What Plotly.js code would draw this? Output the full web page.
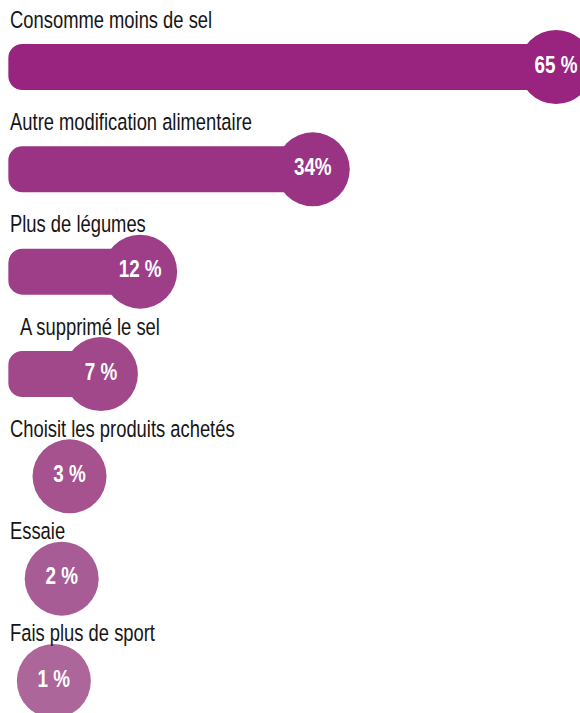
<!DOCTYPE html>
<html>
<head>
<meta charset="utf-8">
<script src="https://cdn.plot.ly/plotly-3.0.1.min.js"></script>
<style>
  html, body { margin: 0; padding: 0; background: #ffffff; }
  #chart { width: 580px; height: 713px; }
</style>
</head>
<body>
<div id="chart"></div>
<script>
// ---- Data ----
const categories = [
  "Consomme moins de sel",
  "Autre modification alimentaire",
  "Plus de légumes",
  "A supprimé le sel",
  "Choisit les produits achetés",
  "Essaie",
  "Fais plus de sport"
];
const values = [65, 34, 12, 7, 3, 2, 1];
const valueLabels = ["65 %", "34%", "12 %", "7 %", "3 %", "2 %", "1 %"];

// ---- Styles (not data) ----
const colors = ["#98247f", "#9b3384", "#9e3e88", "#a1488b", "#a5528f", "#a85c95", "#ac6699"];
const labelIndent = [0, 0, 0, 10, 0, 0, 0];
const FONT = "'Liberation Sans', Arial, sans-serif";
const barStart = -4.8;      // left end of the bars on the value axis
const minBarValue = 5;      // smaller values only show a circle
const LABEL_SQUEEZE = 0.75;  // horizontal condensing of the category labels
const VALUE_SQUEEZE = 0.82;  // horizontal condensing of the value labels

const rows = categories.map((_, i) => i);

// Bars drawn from their value back to barStart, so the rounded end is on the left
const barTrace = {
  type: "bar",
  orientation: "h",
  y: rows,
  base: values,
  x: values.map(v => v >= minBarValue ? barStart - v : null),
  width: 0.45,
  marker: { color: colors, cornerradius: 14, line: { width: 0 } },
  hoverinfo: "skip",
  showlegend: false
};

const circleTrace = {
  type: "scatter",
  mode: "markers+text",
  x: values,
  y: rows,
  text: valueLabels,
  textposition: "middle center",
  textfont: { family: FONT, size: 23, color: "#ffffff", weight: "bold" },
  marker: { size: 74, color: colors, line: { width: 0 } },
  cliponaxis: false,
  hoverinfo: "skip",
  showlegend: false
};

const annotations = categories.map((c, i) => ({
  text: c,
  xref: "paper",
  x: (8 + labelIndent[i]) / 580,
  xanchor: "left",
  yref: "y",
  y: i,
  yanchor: "middle",
  yshift: 48,
  showarrow: false,
  font: { family: FONT, size: 24.5, color: "#151515" }
}));

const layout = {
  width: 580,
  height: 713,
  margin: { l: 0, r: 0, t: 0, b: 0, pad: 0 },
  paper_bgcolor: "#ffffff",
  plot_bgcolor: "#ffffff",
  barmode: "overlay",
  xaxis: { range: [-5.863, 68.06], visible: false, fixedrange: true },
  yaxis: { range: [6.313, -0.655], visible: false, fixedrange: true },
  annotations: annotations,
  hovermode: false,
  showlegend: false
};

// Condense real SVG text horizontally (no condensed font face is installed)
function condense(selector, s, anchor) {
  document.querySelectorAll(selector).forEach(t => {
    const b = t.getBBox();
    const ax = anchor === "left" ? b.x : b.x + b.width / 2;
    const prev = t.getAttribute("transform") || "";
    t.setAttribute("transform", (prev + " translate(" + ax * (1 - s) + ",0) scale(" + s + ",1)").trim());
  });
}

Plotly.newPlot("chart", [barTrace, circleTrace], layout, { displayModeBar: false, staticPlot: true })
  .then(() => {
    condense(".annotation-text", LABEL_SQUEEZE, "left");
    condense(".textpoint text", VALUE_SQUEEZE, "middle");
  });
</script>
</body>
</html>
